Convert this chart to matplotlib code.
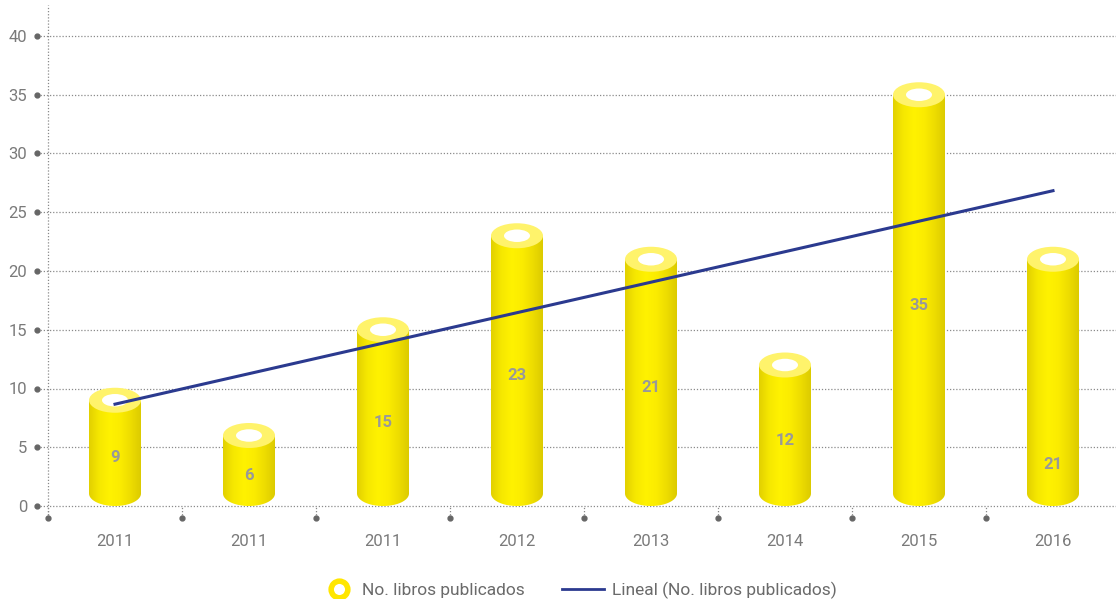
import numpy as np
import matplotlib
matplotlib.use("Agg")
import matplotlib.pyplot as plt
from matplotlib.patches import Ellipse, PathPatch
from matplotlib.path import Path
from matplotlib.lines import Line2D

# data
years = ['2011', '2011', '2011', '2012', '2013', '2014', '2015', '2016']
libros = [9, 6, 15, 23, 21, 12, 35, 21]
y_ticks = [0, 5, 10, 15, 20, 25, 30, 35, 40]

plt.rcParams['font.family'] = ['Roboto', 'DejaVu Sans']

fig = plt.figure(figsize=(11.16, 5.99), dpi=100)
W, H = 1116, 599
ax_l, ax_r, ax_b, ax_t = 48, 1120, 506, 5
ax = fig.add_axes([ax_l / W, (H - ax_b) / H, (ax_r - ax_l) / W, (ax_b - ax_t) / H])
ax_w_px = ax_r - ax_l
ax_h_px = ax_b - ax_t

ymax = 40 + (36 - ax_t) / ((506 - 36) / 40)
ax.set_xlim(-0.5, len(libros) - 0.5)
ax.set_ylim(0, ymax)
for s in ax.spines.values():
    s.set_visible(False)

grid_col = '#8a8a8a'
text_col = '#7a7a7a'

# grid lines and y tick dots
dx = -11 / ax_w_px
for t in y_ticks:
    ax.plot([dx, 1], [t, t], transform=ax.get_yaxis_transform(), ls=(0, (1, 1.5)),
            color=grid_col, lw=0.9, clip_on=False, zorder=1)
    ax.plot([dx], [t], 'o', ms=3.5, color='#666666', transform=ax.get_yaxis_transform(),
            clip_on=False, zorder=2)

# y spine (dotted) and x tick marks
dy = -12 / ax_h_px
ax.plot([0, 0], [dy, 1], transform=ax.transAxes, ls=(0, (1, 1.5)), color=grid_col,
        lw=0.9, clip_on=False, zorder=1)
for k in range(len(libros) + 1):
    xb = k - 0.5
    ax.plot([xb, xb], [dy, 0], transform=ax.get_xaxis_transform(), ls=(0, (1, 1.5)),
            color=grid_col, lw=0.9, clip_on=False, zorder=1)
    ax.plot([xb], [dy], 'o', ms=3.5, color='#666666', transform=ax.get_xaxis_transform(),
            clip_on=False, zorder=2)

ax.set_yticks(y_ticks)
ax.set_yticklabels([str(t) for t in y_ticks])
ax.set_xticks(range(len(years)))
ax.set_xticklabels(years)
ax.tick_params(axis='y', length=0, pad=15, labelsize=12, labelcolor=text_col)
ax.tick_params(axis='x', length=0, pad=20, labelsize=12, labelcolor=text_col)

# cylinders
px_per_unit = ax_h_px / ymax
w = 52 / (ax_w_px / len(libros))
eh = 12.5 / px_per_unit
body_cmap = matplotlib.colors.LinearSegmentedColormap.from_list(
    'cyl', ['#e2d000', '#f6e800', '#fff200', '#fbec00', '#eedd00', '#dccb00'])
grad = np.linspace(0, 1, 256).reshape(1, -1)

for i, v in enumerate(libros):
    x0, x1 = i - w / 2, i + w / 2
    b = eh
    th = np.linspace(np.pi, 2 * np.pi, 40)
    arc = np.column_stack([i + w / 2 * np.cos(th), b + eh * np.sin(th)])
    verts = [(x0, v)] + [(x0, b)] + arc.tolist() + [(x1, v), (x0, v)]
    codes = [Path.MOVETO] + [Path.LINETO] * (len(verts) - 2) + [Path.CLOSEPOLY]
    body = PathPatch(Path(verts, codes), facecolor='none', edgecolor='none')
    ax.add_patch(body)
    im = ax.imshow(grad, cmap=body_cmap, aspect='auto', extent=(x0, x1, 0, v),
                   zorder=3, interpolation='bilinear')
    im.set_clip_path(body)
    ax.add_patch(Ellipse((i, v), w, 2 * eh, facecolor='#fff36b', edgecolor='none', zorder=4))
    ax.add_patch(Ellipse((i, v), w * 0.5, eh, facecolor='white', edgecolor='none', zorder=5))

# value labels
label_pos = [v / 2 - 0.4 for v in libros]
label_pos[-1] = 3.5
for i, v in enumerate(libros):
    ax.text(i, label_pos[i], str(v), ha='center', va='center', fontsize=12,
            fontweight='bold', color='#999999', zorder=6)

# linear trend
xs = np.arange(len(libros))
m, c = np.polyfit(xs, libros, 1)
ax.plot([xs[0], xs[-1]], [m * xs[0] + c, m * xs[-1] + c], color='#2b3a8f', lw=2.2, zorder=7)

ax.set_aspect('auto')
ax.set_xlim(-0.5, len(libros) - 0.5)
ax.set_ylim(0, ymax)

leg_y = 1 - 590 / H
leg1 = fig.legend([Line2D([], [], marker='o', ls='none', ms=12, mfc='white', mec='#ffe600', mew=4)],
                  ['No. libros publicados'], loc='center left',
                  bbox_to_anchor=((339 - 12) / W, leg_y), frameon=False, fontsize=12.5,
                  labelcolor='#6a6a6a', handlelength=1.4, handletextpad=0.6,
                  borderpad=0, borderaxespad=0)
fig.legend([Line2D([], [], color='#2b3a8f', lw=2)], ['Lineal (No. libros publicados)'],
           loc='center left', bbox_to_anchor=(562 / W, leg_y), frameon=False, fontsize=12.5,
           labelcolor='#6a6a6a', handlelength=2.4, handletextpad=0.5,
           borderpad=0, borderaxespad=0)

fig.savefig('out.png', dpi=100)
